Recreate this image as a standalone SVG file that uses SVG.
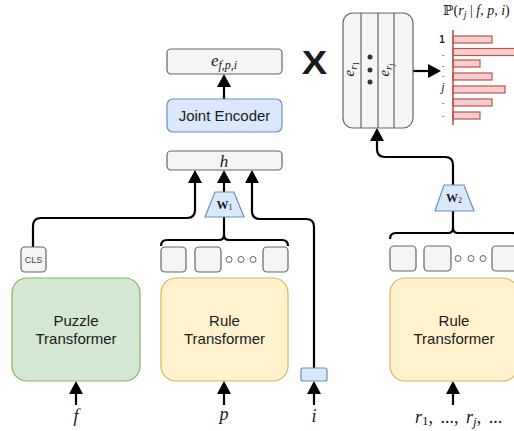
<svg xmlns="http://www.w3.org/2000/svg" width="514" height="431" viewBox="0 0 514 431">
  <style>
    .box { fill: #f5f5f5; stroke: #666666; stroke-width: 1.2; }
    .blue { fill: #dae8fc; stroke: #6c8ebf; stroke-width: 1.2; }
    .green { fill: #d5e8d4; stroke: #82b366; stroke-width: 1.2; }
    .yellow { fill: #fff2cc; stroke: #d6b656; stroke-width: 1.2; }
    .bar { fill: #f8cecc; stroke: #b85450; stroke-width: 1.2; }
    .tok { fill: #f5f5f5; stroke: #666666; stroke-width: 1.2; }
    .ring { fill: #ffffff; stroke: #666666; stroke-width: 1; }
    .wire { fill: none; stroke: #000000; stroke-width: 2.2; }
    .arrow { fill: none; stroke: #000000; stroke-width: 2.2; marker-end: url(#head); }
    .label { font-family: "Liberation Sans", Arial, sans-serif; font-size: 15px; fill: #1a1a1a; }
    .math { font-family: "Liberation Serif", "DejaVu Serif", serif; font-style: italic; fill: #1a1a1a; }
    .bold { font-family: "Liberation Serif", "DejaVu Serif", serif; font-weight: bold; fill: #1a1a1a; }
    .tick { font-family: "Liberation Sans", Arial, sans-serif; font-size: 8px; fill: #222222; }
  </style>
  <defs>
    <marker id="head" markerUnits="userSpaceOnUse" markerWidth="14" markerHeight="14" refX="1" refY="7" orient="auto">
      <path d="M0,0 L13,7 L0,14 z" fill="#000000"/>
    </marker>
  </defs>

  <!-- connectors -->
  <g id="connectors">
    <path class="arrow" d="M224,132 V86"/>
    <path class="arrow" d="M224,192 V182"/>
    <path class="arrow" d="M33,247 V226 Q33,218 41,218 H187 Q195,218 195,210 V182"/>
    <path class="arrow" d="M314,368 V227 Q314,219 306,219 H260 Q252,219 252,211 V182"/>
    <!-- brace under W1 -->
    <path class="wire" d="M224,217 V235"/>
    <path class="wire" d="M161,246 Q161,240 167,240 H219 Q224,240 224,235 Q224,240 229,240 H282 Q288,240 288,246"/>
    <!-- brace under W2 -->
    <path class="wire" d="M453,211 V228"/>
    <path class="wire" d="M390,239 Q390,233 396,233 H448 Q453,233 453,228 Q453,233 458,233 H512 Q518,233 518,239"/>
    <path class="arrow" d="M453,185 V165 Q453,157 445,157 H385 Q377,157 377,149 V140"/>
    <path class="arrow" d="M413,71 H429"/>
    <path class="arrow" d="M76,405 V393"/>
    <path class="arrow" d="M224,405 V393"/>
    <path class="arrow" d="M314,405 V393"/>
    <path class="arrow" d="M453,405 V393"/>
  </g>

  <g id="embedding-out">
    <rect class="box" x="167" y="49" width="115" height="25" rx="4"/>
    <text class="math" x="224" y="66" text-anchor="middle" font-size="17">e<tspan font-size="12" dy="3">f,p,i</tspan></text>
  </g>

  <g id="joint-encoder">
    <rect class="blue" x="167" y="99" width="115" height="33" rx="6"/>
    <text class="label" x="224.5" y="121" text-anchor="middle">Joint Encoder</text>
  </g>

  <g id="h">
    <rect class="box" x="167" y="151" width="115" height="19" rx="4"/>
    <text class="math" x="224" y="166.5" text-anchor="middle" font-size="17">h</text>
  </g>

  <g id="w1">
    <polygon class="blue" points="215,192 234,192 244,217 205,217"/>
    <text class="bold" x="224.5" y="209" text-anchor="middle" font-size="12">W<tspan font-size="8" font-weight="normal" dy="1">1</tspan></text>
  </g>

  <g id="cls">
    <rect class="tok" x="21" y="247" width="25" height="25" rx="4"/>
    <text x="33.5" y="263" text-anchor="middle" font-family="Liberation Sans, Arial, sans-serif" font-size="9" fill="#444444">CLS</text>
  </g>

  <g id="rule-tokens">
    <rect class="tok" x="161" y="247" width="25" height="25" rx="4"/>
    <rect class="tok" x="195" y="247" width="26" height="25" rx="4"/>
    <circle class="ring" cx="229" cy="259.5" r="3"/>
    <circle class="ring" cx="241" cy="259.5" r="3"/>
    <circle class="ring" cx="253" cy="259.5" r="3"/>
    <rect class="tok" x="263" y="247" width="25" height="25" rx="4"/>
  </g>

  <g id="puzzle-transformer">
    <rect class="green" x="12" y="278" width="128" height="103" rx="15"/>
    <text class="label" x="76" y="326" text-anchor="middle">Puzzle</text>
    <text class="label" x="76" y="344" text-anchor="middle">Transformer</text>
  </g>

  <g id="rule-transformer">
    <rect class="yellow" x="161" y="278" width="127" height="103" rx="15"/>
    <text class="label" x="224.5" y="326" text-anchor="middle">Rule</text>
    <text class="label" x="224.5" y="344" text-anchor="middle">Transformer</text>
  </g>

  <g id="index-token">
    <rect class="blue" x="301" y="368" width="26" height="13" rx="2"/>
  </g>

  <g id="inputs">
    <text class="math" x="76" y="422" text-anchor="middle" font-size="18">f</text>
    <text class="math" x="224" y="420" text-anchor="middle" font-size="18">p</text>
    <text class="math" x="314" y="422" text-anchor="middle" font-size="18">i</text>
    <text class="math" x="415" y="423" font-size="18" word-spacing="3">r<tspan font-size="13" font-style="normal" dy="2">1</tspan><tspan dy="-2" font-style="normal">, ..., </tspan>r<tspan font-size="13" dy="3">j</tspan><tspan dy="-3" font-style="normal">, ...</tspan></text>
  </g>

  <g id="rule-transformer-2">
    <rect class="yellow" x="390" y="278" width="128" height="103" rx="15"/>
    <text class="label" x="454" y="326" text-anchor="middle">Rule</text>
    <text class="label" x="454" y="344" text-anchor="middle">Transformer</text>
  </g>

  <g id="rule-tokens-2">
    <rect class="tok" x="390" y="246" width="26" height="25" rx="4"/>
    <rect class="tok" x="424" y="246" width="27" height="25" rx="4"/>
    <circle class="ring" cx="458" cy="258.5" r="3"/>
    <circle class="ring" cx="471" cy="258.5" r="3"/>
    <circle class="ring" cx="483" cy="258.5" r="3"/>
    <rect class="tok" x="492" y="246" width="26" height="25" rx="4"/>
  </g>

  <g id="w2">
    <polygon class="blue" points="444,185 464,185 474,211 435,211"/>
    <text class="bold" x="454" y="202" text-anchor="middle" font-size="12">W<tspan font-size="8" font-weight="normal" dy="1">2</tspan></text>
  </g>

  <g id="rule-matrix">
    <rect class="box" x="343" y="13" width="70" height="115" rx="10"/>
    <line x1="361" y1="13" x2="361" y2="128" stroke="#666666" stroke-width="1.2"/>
    <line x1="378" y1="13" x2="378" y2="128" stroke="#666666" stroke-width="1.2"/>
    <line x1="394" y1="13" x2="394" y2="128" stroke="#666666" stroke-width="1.2"/>
    <text class="math" transform="translate(354,69) rotate(-90)" text-anchor="middle" font-size="15">e<tspan font-size="11" dy="3">r</tspan><tspan font-size="8" font-style="normal" dy="2">1</tspan></text>
    <text class="math" transform="translate(389,70) rotate(-90)" text-anchor="middle" font-size="15">e<tspan font-size="11" dy="3">r</tspan><tspan font-size="8" dy="2">j</tspan></text>
    <circle cx="370" cy="57" r="2.5" fill="#333333"/>
    <circle cx="370" cy="70" r="2.5" fill="#333333"/>
    <circle cx="370" cy="82" r="2.5" fill="#333333"/>
  </g>

  <g id="times">
    <text x="314.5" y="74" text-anchor="middle" font-family="Liberation Sans, Arial, sans-serif" font-weight="bold" font-size="34" fill="#1a1a1a" transform="translate(314.5,0) scale(1.12,1) translate(-314.5,0)">X</text>
  </g>

  <g id="score-chart">
    <text class="math" x="443" y="15" font-size="14"><tspan font-style="normal">ℙ(</tspan>r<tspan font-size="10" dy="3">j</tspan><tspan dy="-3" font-style="normal"> | </tspan>f<tspan font-style="normal">, </tspan>p<tspan font-style="normal">, </tspan>i<tspan font-style="normal">)</tspan></text>
    <rect class="bar" x="453" y="36" width="39" height="7"/>
    <rect class="bar" x="453" y="48.5" width="65" height="7"/>
    <rect class="bar" x="453" y="60" width="27" height="7"/>
    <rect class="bar" x="453" y="73" width="39" height="7"/>
    <rect class="bar" x="453" y="86" width="52" height="7"/>
    <rect class="bar" x="453" y="99" width="39" height="7"/>
    <rect class="bar" x="453" y="112" width="27" height="7"/>
    <line x1="453" y1="30" x2="453" y2="125" stroke="#b85450" stroke-width="1.6"/>
    <text x="442" y="43" text-anchor="middle" font-family="Liberation Sans, Arial, sans-serif" font-size="10" font-weight="bold" fill="#222222">1</text>
    <text class="tick" x="443" y="56.5" text-anchor="middle">-</text>
    <text class="tick" x="443" y="68" text-anchor="middle">-</text>
    <text class="tick" x="443" y="78" text-anchor="middle">-</text>
    <text class="math" x="443" y="91" text-anchor="middle" font-size="12">j</text>
    <text class="tick" x="443" y="104.5" text-anchor="middle">-</text>
    <text class="tick" x="443" y="117.5" text-anchor="middle">-</text>
  </g>
</svg>
